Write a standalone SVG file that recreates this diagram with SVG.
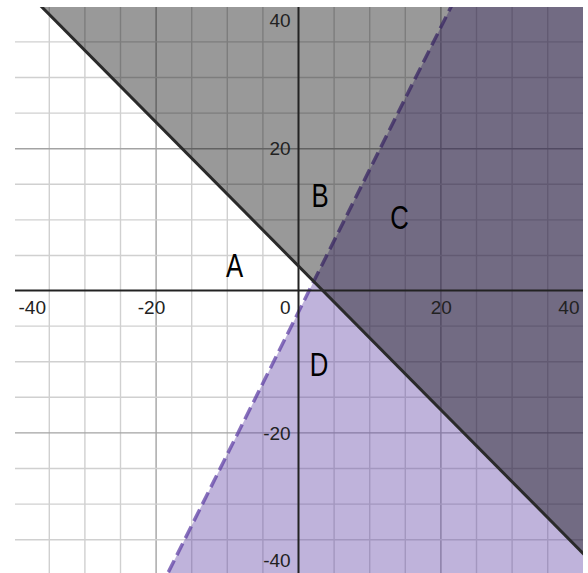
<svg xmlns="http://www.w3.org/2000/svg" width="588" height="573" viewBox="0 0 588 573">
  <defs>
    <clipPath id="plotClip">
      <rect x="15" y="7" width="568" height="566"/>
    </clipPath>
  </defs>
  <style>
    .minor { stroke: #d0d0d0; stroke-width: 1.4; }
    .major { stroke: #a3a3a3; stroke-width: 1.4; }
    .axis { stroke: #222; stroke-width: 2; }
    .tick { font-family: "Liberation Sans", Arial, sans-serif; font-size: 19px; fill: #222; }
    .region { font-family: "Liberation Sans", Arial, sans-serif; font-size: 33px; fill: #000; text-anchor: middle; }
  </style>
  <rect x="0" y="0" width="588" height="573" fill="#ffffff"/>
  <g id="plot" clip-path="url(#plotClip)">
    <g id="grid">
      <line class="minor" x1="49.3" y1="0" x2="49.3" y2="573"/>
      <line class="minor" x1="84.9" y1="0" x2="84.9" y2="573"/>
      <line class="minor" x1="120.5" y1="0" x2="120.5" y2="573"/>
      <line class="major" x1="156.1" y1="0" x2="156.1" y2="573"/>
      <line class="minor" x1="191.7" y1="0" x2="191.7" y2="573"/>
      <line class="minor" x1="227.3" y1="0" x2="227.3" y2="573"/>
      <line class="minor" x1="262.9" y1="0" x2="262.9" y2="573"/>
      <line class="minor" x1="334.1" y1="0" x2="334.1" y2="573"/>
      <line class="minor" x1="369.7" y1="0" x2="369.7" y2="573"/>
      <line class="minor" x1="405.3" y1="0" x2="405.3" y2="573"/>
      <line class="major" x1="440.9" y1="0" x2="440.9" y2="573"/>
      <line class="minor" x1="476.5" y1="0" x2="476.5" y2="573"/>
      <line class="minor" x1="512.1" y1="0" x2="512.1" y2="573"/>
      <line class="minor" x1="547.7" y1="0" x2="547.7" y2="573"/>
      <line class="minor" x1="0" y1="41.9" x2="588" y2="41.9"/>
      <line class="minor" x1="0" y1="77.5" x2="588" y2="77.5"/>
      <line class="minor" x1="0" y1="113.1" x2="588" y2="113.1"/>
      <line class="major" x1="0" y1="148.7" x2="588" y2="148.7"/>
      <line class="minor" x1="0" y1="184.3" x2="588" y2="184.3"/>
      <line class="minor" x1="0" y1="219.9" x2="588" y2="219.9"/>
      <line class="minor" x1="0" y1="255.5" x2="588" y2="255.5"/>
      <line class="minor" x1="0" y1="326.1" x2="588" y2="326.1"/>
      <line class="minor" x1="0" y1="361.7" x2="588" y2="361.7"/>
      <line class="minor" x1="0" y1="397.3" x2="588" y2="397.3"/>
      <line class="major" x1="0" y1="432.9" x2="588" y2="432.9"/>
      <line class="minor" x1="0" y1="468.5" x2="588" y2="468.5"/>
      <line class="minor" x1="0" y1="504.1" x2="588" y2="504.1"/>
      <line class="minor" x1="0" y1="539.7" x2="588" y2="539.7"/>
    </g>
    <g id="purple-region">
      <polygon points="480.1,-51.3 700,-51.3 700,700 104.45,700" fill="#6042a6" fill-opacity="0.4"/>
    </g>
    <g id="dashed-boundary">
      <line x1="480.1" y1="-51.3" x2="149.0" y2="610.9" stroke="#6042a6" stroke-opacity="0.75" stroke-width="3.5" stroke-dasharray="13 6"/>
    </g>
    <g id="gray-region">
      <polygon points="-15.9,-51.3 700,-51.3 700,670.7" fill="#000000" fill-opacity="0.4"/>
    </g>
    <g id="axes">
      <line class="axis" x1="0" y1="290.5" x2="588" y2="290.5"/>
      <line class="axis" x1="298.5" y1="0" x2="298.5" y2="573"/>
    </g>
    <g id="solid-boundary">
      <line x1="-15.9" y1="-51.3" x2="618.9" y2="589.5" stroke="#2a2a2a" stroke-width="3"/>
    </g>
  </g>
  <g id="tick-labels">
    <text class="tick" x="290.7" y="26.7" text-anchor="end">40</text>
    <text class="tick" x="290.7" y="155.3" text-anchor="end">20</text>
    <text class="tick" x="290.7" y="439.6" text-anchor="end">-20</text>
    <text class="tick" x="290.7" y="567.3" text-anchor="end">-40</text>
    <text class="tick" x="18.5" y="314.3">-40</text>
    <text class="tick" x="137.8" y="314.3">-20</text>
    <text class="tick" x="290.7" y="314.3" text-anchor="end">0</text>
    <text class="tick" x="441.3" y="314.3" text-anchor="middle">20</text>
    <text class="tick" x="579.5" y="314.3" text-anchor="end">40</text>
  </g>
  <g id="label-A"><text class="region" transform="translate(234.7,277.3) scale(0.78,1)">A</text></g>
  <g id="label-B"><text class="region" transform="translate(320,207.3) scale(0.78,1)">B</text></g>
  <g id="label-C"><text class="region" transform="translate(399.5,229.3) scale(0.78,1)">C</text></g>
  <g id="label-D"><text class="region" transform="translate(319,375.5) scale(0.78,1)">D</text></g>
</svg>
